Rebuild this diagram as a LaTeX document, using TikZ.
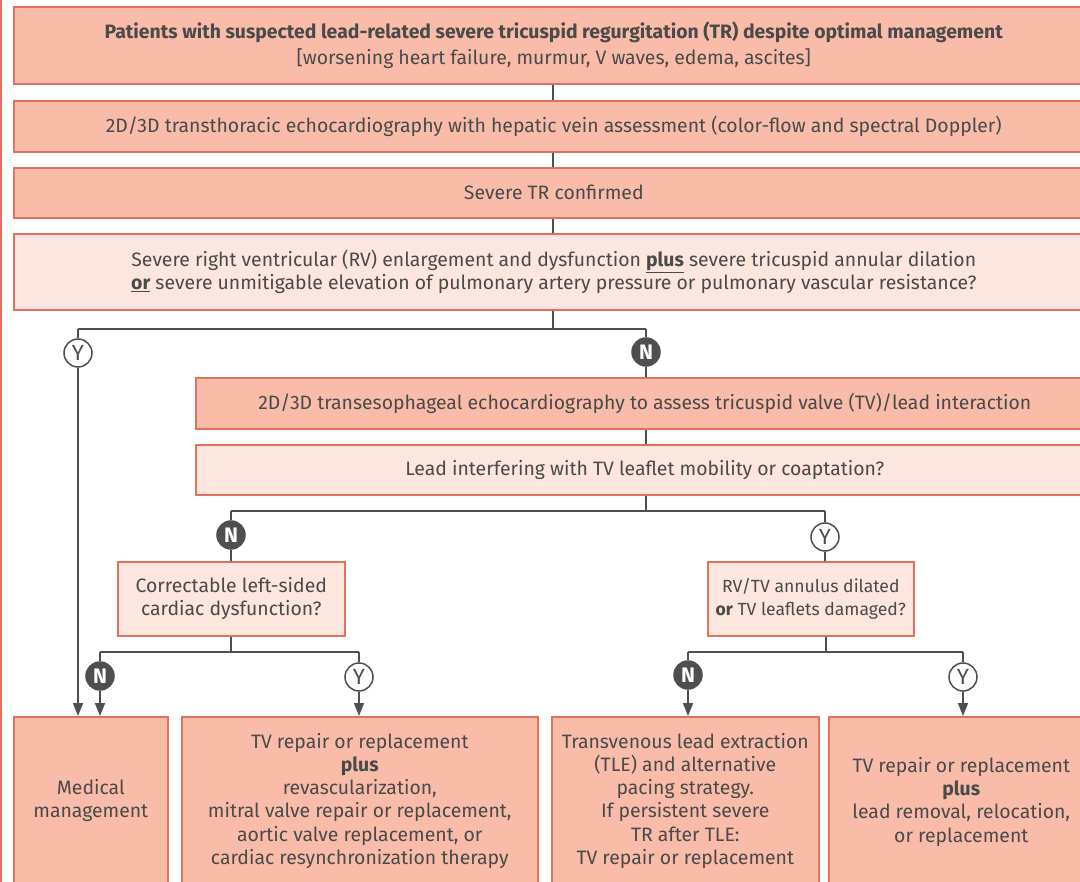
\documentclass[tikz,border=0pt]{standalone}
\usepackage{fontspec}
\setmainfont{Fira Sans}
\usetikzlibrary{arrows.meta}
\definecolor{boxfill}{HTML}{F9BCA9}
\definecolor{boxedge}{HTML}{E46F5B}
\definecolor{lightfill}{HTML}{FDE6DE}
\definecolor{txt}{HTML}{4A4A4A}
\definecolor{ln}{HTML}{4F4F4F}
\tikzset{
  box/.style={draw=boxedge, fill=boxfill, line width=1.6pt, text=txt, align=center,
    anchor=north west, inner sep=0pt, font=\fontsize{19.4}{23.3}\selectfont},
  lbox/.style={box, fill=lightfill},
  ycirc/.style={circle, draw=ln, fill=white, line width=1.5pt, minimum size=28pt, inner sep=0pt,
    text=ln, font=\fontsize{22}{22}\selectfont},
  ncirc/.style={circle, draw=ln, fill=ln, line width=1.5pt, minimum size=28pt, inner sep=0pt,
    text=white, font=\fontsize{21}{21}\selectfont\bfseries},
  conn/.style={draw=ln, line width=1.6pt},
  arr/.style={conn, -{Triangle[length=13pt,width=10pt]}}
}
\begin{document}
\begin{tikzpicture}[x=1pt,y=-1pt]
\useasboundingbox (0,0) rectangle (1080,882);
\clip (0,0) rectangle (1080,882);
\draw[boxedge, line width=1.6pt] (1,-5) -- (1,890);

% top boxes
\node[box, minimum width=1080pt, minimum height=77pt] (b1) at (13,6)
  {\textbf{Patients with suspected lead-related severe tricuspid regurgitation (TR) despite optimal management}\\[2pt]
   {[worsening heart failure, murmur, V waves, edema, ascites]}};
\node[box, minimum width=1080pt, minimum height=51pt] (b2) at (13,100)
  {2D/3D transthoracic echocardiography with hepatic vein assessment (color-flow and spectral Doppler)};
\node[box, minimum width=1080pt, minimum height=50pt] (b3) at (13,167)
  {Severe TR confirmed};
\node[lbox, minimum width=1080pt, minimum height=76pt] (b4) at (13,233)
  {Severe right ventricular (RV) enlargement and dysfunction \underline{\textbf{plus}} severe tricuspid annular dilation\\
   \underline{\textbf{or}} severe unmitigable elevation of pulmonary artery pressure or pulmonary vascular resistance?};
\node[box, minimum width=898pt, minimum height=51pt] (b5) at (195,377)
  {2D/3D transesophageal echocardiography to assess tricuspid valve (TV)/lead interaction};
\node[lbox, minimum width=898pt, minimum height=50pt] (b6) at (195,444)
  {Lead interfering with TV leaflet mobility or coaptation?};
\node[lbox, minimum width=227pt, minimum height=74pt] (b7) at (117,561)
  {Correctable left-sided\\cardiac dysfunction?};
\node[lbox, minimum width=206pt, minimum height=74pt, font=\fontsize{17.6}{23.3}\selectfont] (b8) at (707,561)
  {RV/TV annulus dilated\\\textbf{or} TV leaflets damaged?};

% bottom boxes
\node[box, minimum width=154pt, minimum height=168pt] (m1) at (13,716)
  {Medical\\management};
\node[box, minimum width=356pt, minimum height=168pt] (m2) at (181,716)
  {TV repair or replacement\\ \textbf{plus}\\ revascularization,\\ mitral valve repair or replacement,\\
   aortic valve replacement, or\\ cardiac resynchronization therapy};
\node[box, minimum width=267pt, minimum height=168pt] (m3) at (551,716)
  {Transvenous lead extraction\\ (TLE) and alternative\\ pacing strategy.\\ If persistent severe\\
   TR after TLE:\\ TV repair or replacement};
\node[box, minimum width=265pt, minimum height=170pt] (m4) at (828,716)
  {TV repair or replacement\\ \textbf{plus}\\ lead removal, relocation,\\ or replacement};

% junction coordinates
\coordinate (j1) at (553,329);
\coordinate (j1l) at (78,329);
\coordinate (j1r) at (646,329);
\coordinate (j2) at (646,511);
\coordinate (j2l) at (231,511);
\coordinate (j2r) at (825,511);
\coordinate (j3) at (231,652);
\coordinate (j3l) at (100,652);
\coordinate (j3r) at (359,652);
\coordinate (j4) at (826,652);
\coordinate (j4l) at (688,652);
\coordinate (j4r) at (963,652);

% decision circles
\node[ycirc] (c1y) at (78,353) {Y};
\node[ncirc] (c1n) at (646,352) {N};
\node[ncirc] (c2n) at (231,535) {N};
\node[ycirc] (c2y) at (825,537) {Y};
\node[ncirc] (c3n) at (100,676) {N};
\node[ycirc] (c3y) at (359,677) {Y};
\node[ncirc] (c4n) at (688,675) {N};
\node[ycirc] (c4y) at (963,677) {Y};

% connectors
\draw[conn] (b1.south -| j1) -- (b2.north -| j1);
\draw[conn] (b2.south -| j1) -- (b3.north -| j1);
\draw[conn] (b3.south -| j1) -- (b4.north -| j1);
\draw[conn] (b4.south -| j1) -- (j1);
\draw[conn] (j1l) -- (j1r);
\draw[conn] (j1l) -- (c1y);
\draw[conn] (j1r) -- (c1n);
\draw[arr] (c1y) -- (c1y |- m1.north);
\draw[conn] (c1n) -- (c1n |- b5.north);
\draw[conn] (b5.south -| j2) -- (b6.north -| j2);
\draw[conn] (b6.south -| j2) -- (j2);
\draw[conn] (j2l) -- (j2r);
\draw[conn] (j2l) -- (c2n);
\draw[conn] (j2r) -- (c2y);
\draw[conn] (c2n) -- (c2n |- b7.north);
\draw[conn] (c2y) -- (c2y |- b8.north);
\draw[conn] (b7.south -| j3) -- (j3);
\draw[conn] (j3l) -- (j3r);
\draw[conn] (j3l) -- (c3n);
\draw[conn] (j3r) -- (c3y);
\draw[arr] (c3n) -- (c3n |- m1.north);
\draw[arr] (c3y) -- (c3y |- m2.north);
\draw[conn] (b8.south -| j4) -- (j4);
\draw[conn] (j4l) -- (j4r);
\draw[conn] (j4l) -- (c4n);
\draw[conn] (j4r) -- (c4y);
\draw[arr] (c4n) -- (c4n |- m3.north);
\draw[arr] (c4y) -- (c4y |- m4.north);
\end{tikzpicture}
\end{document}
